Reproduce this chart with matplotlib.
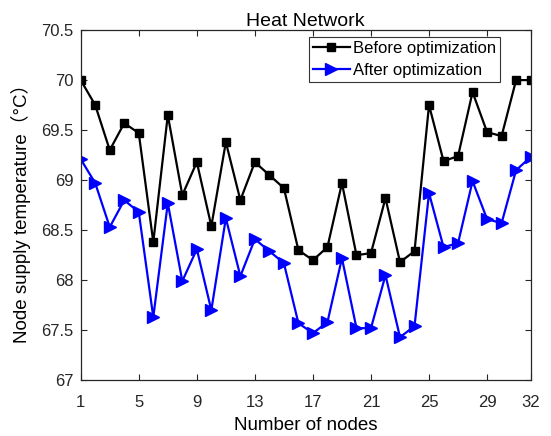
import matplotlib
matplotlib.use("Agg")
import matplotlib.pyplot as plt

plt.rcParams['font.family'] = ['Liberation Sans', 'Noto Sans CJK SC', 'DejaVu Sans']

nodes = list(range(1, 33))
before = [70.00, 69.75, 69.30, 69.57, 69.47, 68.38, 69.65, 68.85, 69.18, 68.54,
          69.38, 68.80, 69.18, 69.05, 68.92, 68.30, 68.20, 68.33, 68.97, 68.25,
          68.27, 68.82, 68.18, 68.29, 69.75, 69.19, 69.24, 69.88, 69.48, 69.44,
          70.00, 70.00]
after = [69.21, 68.97, 68.53, 68.80, 68.68, 67.63, 68.77, 67.99, 68.31, 67.70,
         68.62, 68.04, 68.41, 68.29, 68.17, 67.57, 67.47, 67.58, 68.22, 67.52,
         67.52, 68.05, 67.43, 67.54, 68.87, 68.33, 68.37, 68.99, 68.61, 68.57,
         69.10, 69.23]
xticks = [1, 5, 9, 13, 17, 21, 25, 29, 32]
yticks = [67, 67.5, 68, 68.5, 69, 69.5, 70, 70.5]
ytick_labels = ['67', '67.5', '68', '68.5', '69', '69.5', '70', '70.5']

fig = plt.figure(figsize=(5.51, 4.36), dpi=100)
ax = fig.add_axes([0.1465, 0.128, 0.8165, 0.803])

ax.plot(nodes, before, color='black', lw=1.6, marker='s', ms=5.5,
        label='Before optimization')
ax.plot(nodes, after, color='blue', lw=1.6, marker='>', ms=8,
        label='After optimization')

ax.set_xlim(1, 32)
ax.set_ylim(67, 70.5)
ax.set_xticks(xticks)
ax.set_yticks(yticks)
ax.set_yticklabels(ytick_labels)
ax.tick_params(direction='in', top=True, right=True, labelsize=12,
               length=4, width=0.8, colors='#262626', pad=5)
ax.tick_params(axis='x', pad=11)
for s in ax.spines.values():
    s.set_linewidth(0.9)
    s.set_color('#262626')

ax.set_title('Heat Network', fontsize=14, pad=3.0)
ax.set_xlabel('Number of nodes', fontsize=13.5, labelpad=5)
ax.set_ylabel('Node supply temperature（°C）', fontsize=13.5)
ax.yaxis.set_label_coords(-0.11, 0.49)

leg = ax.legend(loc='upper right', bbox_to_anchor=(0.932, 0.98), fontsize=12,
                frameon=True, fancybox=False, edgecolor='black',
                borderpad=0.25, handlelength=2.2, handletextpad=0.18,
                labelspacing=0.42, borderaxespad=0.0)
leg.get_frame().set_linewidth(0.8)

fig.savefig('out.png', dpi=100)
